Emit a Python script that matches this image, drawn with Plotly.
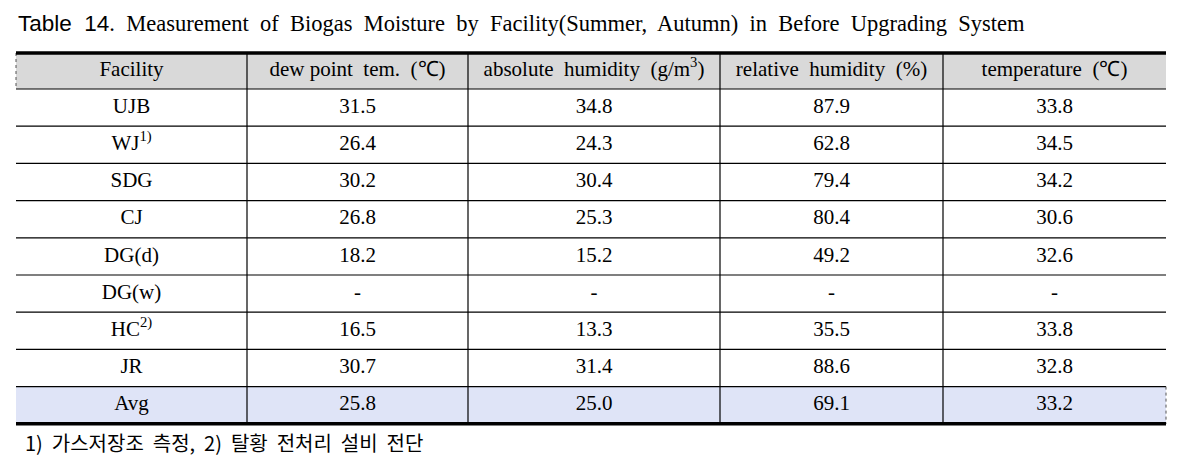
import plotly.graph_objects as go

# ---- data ----
facilities = ["UJB", "WJ<sup>1)</sup>", "SDG", "CJ", "DG(d)", "DG(w)", "HC<sup>2)</sup>", "JR", "Avg"]
dew_point = [31.5, 26.4, 30.2, 26.8, 18.2, None, 16.5, 30.7, 25.8]
abs_humidity = [34.8, 24.3, 30.4, 25.3, 15.2, None, 13.3, 31.4, 25.0]
rel_humidity = [87.9, 62.8, 79.4, 80.4, 49.2, None, 35.5, 88.6, 69.1]
temperature = [33.8, 34.5, 34.2, 30.6, 32.6, None, 33.8, 32.8, 33.2]
headers = ["Facility", "dew point  tem.  (℃)", "absolute  humidity  (g/m<sup>3</sup>)",
           "relative  humidity  (%)", "temperature  (℃)"]
title_a = "Table  14"
title_b = ".  Measurement  of  Biogas  Moisture  by  Facility(Summer,  Autumn)  in  Before  Upgrading  System"
footnote = "1)  가스저장조  측정,  2)  탈황  전처리  설비  전단"

def fmt(v):
    return "-" if v is None else f"{v:.1f}"

columns = [facilities,
           [fmt(v) for v in dew_point],
           [fmt(v) for v in abs_humidity],
           [fmt(v) for v in rel_humidity],
           [fmt(v) for v in temperature]]

# ---- layout geometry (pixels; axes use pixel units) ----
W, H = 1181, 465
col_edges = [16, 247, 468, 720, 943, 1166]
col_centers = [(col_edges[i] + col_edges[i + 1]) / 2 for i in range(len(col_edges) - 1)]
top_y = 53
header_h = 36
row_h = 37.2
n_rows = len(facilities)
row_edges = [top_y, top_y + header_h] + [top_y + header_h + row_h * (k + 1) for k in range(n_rows)]
row_centers = [(row_edges[i] + row_edges[i + 1]) / 2 for i in range(len(row_edges) - 1)]
bottom_y = row_edges[-1]

SERIF = "Liberation Serif, Times New Roman, serif"
font_size = 21
text_color = "#000000"
header_fill = "#d9d9d9"
avg_fill = "#dfe4f7"

fig = go.Figure()

# header texts
fig.add_trace(go.Scatter(
    x=col_centers, y=[row_centers[0]] * len(headers), text=headers,
    mode="text", textposition="middle center", hoverinfo="skip", showlegend=False,
    textfont=dict(family=SERIF, size=font_size, color=text_color),
))
# body cells, column by column
for ci, col in enumerate(columns):
    fig.add_trace(go.Scatter(
        x=[col_centers[ci]] * len(col), y=row_centers[1:], text=col,
        mode="text", textposition="middle center", hoverinfo="skip", showlegend=False,
        textfont=dict(family=SERIF, size=font_size, color=text_color),
    ))

shapes = []
# background fills
shapes.append(dict(type="rect", xref="x", yref="y", layer="below",
                   x0=col_edges[0], x1=col_edges[-1], y0=row_edges[0], y1=row_edges[1],
                   fillcolor=header_fill, line=dict(width=0)))
shapes.append(dict(type="rect", xref="x", yref="y", layer="below",
                   x0=col_edges[0], x1=col_edges[-1], y0=row_edges[-2], y1=row_edges[-1],
                   fillcolor=avg_fill, line=dict(width=0)))
# thin horizontal lines
for y in row_edges[1:-1]:
    shapes.append(dict(type="line", xref="x", yref="y", layer="above",
                       x0=col_edges[0], x1=col_edges[-1], y0=y, y1=y,
                       line=dict(color="#000000", width=1.2)))
# vertical lines
for x in col_edges[1:-1]:
    shapes.append(dict(type="line", xref="x", yref="y", layer="above",
                       x0=x, x1=x, y0=top_y, y1=bottom_y,
                       line=dict(color="#000000", width=1.2)))
# dotted outer bits
shapes.append(dict(type="line", xref="x", yref="y", layer="above",
                   x0=col_edges[0], x1=col_edges[0], y0=row_edges[0], y1=row_edges[1],
                   line=dict(color="#555555", width=1, dash="dot")))
shapes.append(dict(type="line", xref="x", yref="y", layer="above",
                   x0=col_edges[-1], x1=col_edges[-1], y0=row_edges[-2], y1=row_edges[-1],
                   line=dict(color="#555555", width=1, dash="dot")))
# thick top / bottom rules
for y in (top_y, bottom_y):
    shapes.append(dict(type="line", xref="x", yref="y", layer="above",
                       x0=col_edges[0], x1=col_edges[-1], y0=y, y1=y,
                       line=dict(color="#000000", width=3.5)))

fig.update_layout(
    width=W, height=H,
    margin=dict(l=0, r=0, t=0, b=0),
    paper_bgcolor="white", plot_bgcolor="white",
    xaxis=dict(range=[0, W], visible=False, fixedrange=True),
    yaxis=dict(range=[H, 0], visible=False, fixedrange=True),
    shapes=shapes,
    annotations=[
        dict(xref="x", yref="y", x=16, y=23.5, xanchor="left", yanchor="middle",
             showarrow=False,
             text=f"<span style='font-family:Liberation Sans, Arial, sans-serif'>{title_a}</span>"
                  f"<span style='font-family:{SERIF}'>{title_b}</span>",
             font=dict(size=22.5, color=text_color, family=SERIF)),
        dict(xref="x", yref="y", x=23, y=442, xanchor="left", yanchor="middle",
             showarrow=False, text=footnote,
             font=dict(size=20, color=text_color, family="Noto Sans CJK KR, Noto Sans, sans-serif")),
    ],
)

fig.write_html("out.html", config={"displayModeBar": False, "staticPlot": True},
               post_script="document.body.style.margin='0';document.body.style.overflow='hidden';")
